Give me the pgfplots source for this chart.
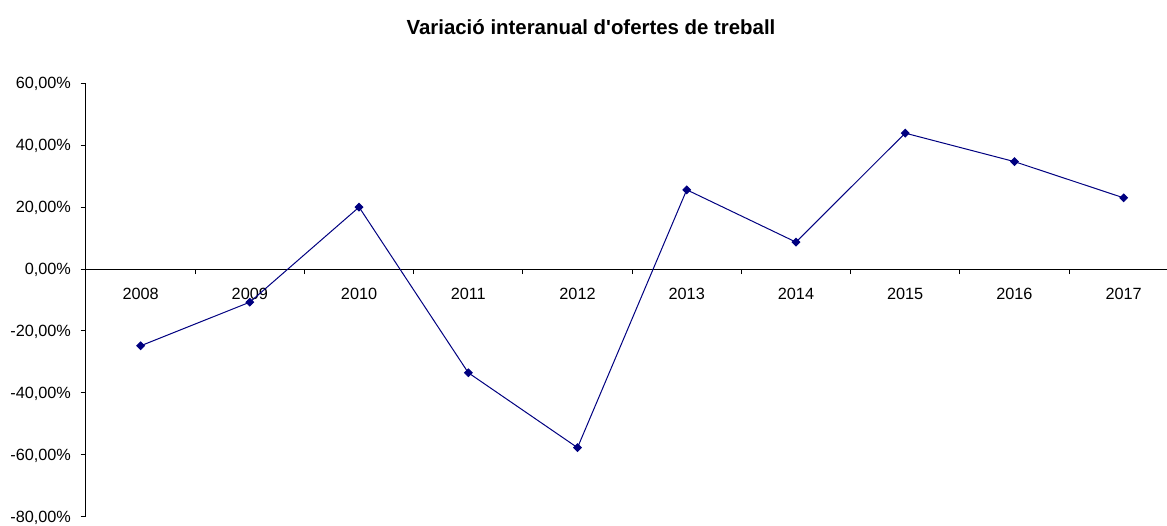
\documentclass[border=0pt]{standalone}
\usepackage{pgfplots}
\pgfplotsset{compat=1.18}
\usepackage{fontspec}
\setmainfont{Liberation Sans}
\newfontfamily\titlefont{Liberation Sans}
\definecolor{navy}{RGB}{0,0,128}
\begin{document}
\begin{tikzpicture}
\begin{axis}[
  scale only axis, width=810.75pt, height=325.05pt,
  xmin=-0.5, xmax=9.397, ymin=-80, ymax=60,
  axis x line=middle, axis y line=left,
  axis line style={-, black, line width=0.75pt},
  clip=false,
  tick align=outside,
  xtick={0,1,2,3,4,5,6,7,8,9},
  xticklabels={2008,2009,2010,2011,2012,2013,2014,2015,2016,2017},
  minor xtick={0.5,1.5,2.5,3.5,4.5,5.5,6.5,7.5,8.5},
  xtick style={draw=none},
  minor tick length=3.75pt,
  major tick length=4pt,
  minor x tick style={black, line width=0.75pt, draw},
  ytick style={black, line width=0.75pt},
  ytick={-80,-60,-40,-20,0,20,40,60},
  yticklabels={{-80,00\%},{-60,00\%},{-40,00\%},{-20,00\%},{0,00\%},{20,00\%},{40,00\%},{60,00\%}},
  ticklabel style={font=\fontsize{12.2}{14}\selectfont},
  xticklabel style={anchor=base, yshift=-18.6pt},
  yticklabel style={anchor=east, xshift=-3.75pt, yshift=-0.75pt},
]
\addplot[navy, line width=0.75pt, mark=square*, mark size=2pt, mark options={rotate=45, fill=navy, draw=navy}]
  coordinates {(0,-24.8) (1,-10.7) (2,20.0) (3,-33.5) (4,-57.7) (5,25.6) (6,8.7) (7,43.9) (8,34.7) (9,23.0)};
\coordinate (sw) at (rel axis cs:0,0);
\end{axis}
\node[anchor=base, font=\titlefont\bfseries\fontsize{15.3}{18}\selectfont] at ([shift={(378.75pt,362pt)}]sw) {Variació interanual d'ofertes de treball};
\pgfresetboundingbox
\path ([shift={(-64.5pt,-6.225pt)}]sw) rectangle ++(875.25pt,393.75pt);
\end{tikzpicture}
\end{document}
